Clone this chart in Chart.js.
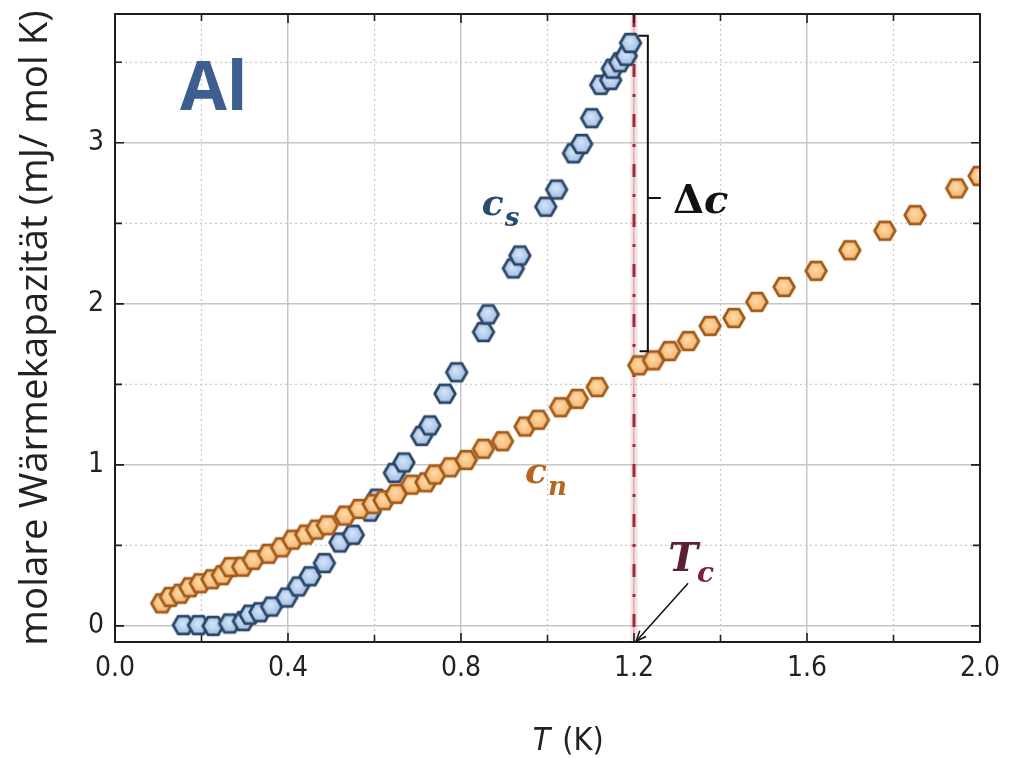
<!DOCTYPE html>
<html>
<head>
<meta charset="utf-8">
<script src="https://cdn.jsdelivr.net/npm/chart.js@4.4.1/dist/chart.umd.min.js"></script>
<style>
  html, body { margin: 0; padding: 0; background: #fff; }
</style>
</head>
<body>
<canvas id="myChart" width="1020" height="758"></canvas>
<script>
// supraleitender Zustand c_s
const csT = [0.158, 0.193, 0.227, 0.265, 0.297, 0.312, 0.335, 0.362, 0.397, 0.424,
             0.451, 0.484, 0.520, 0.551, 0.590, 0.605, 0.646, 0.668, 0.709, 0.728,
             0.763, 0.790, 0.852, 0.863, 0.921, 0.936, 0.996, 1.021, 1.060, 1.079,
             1.102, 1.123, 1.146, 1.150, 1.167, 1.182, 1.192];
const csC = [0.005, 0.005, 0.000, 0.015, 0.030, 0.070, 0.085, 0.120, 0.176, 0.245,
             0.308, 0.390, 0.518, 0.566, 0.710, 0.790, 0.950, 1.015, 1.180, 1.245,
             1.442, 1.575, 1.825, 1.935, 2.220, 2.300, 2.603, 2.710, 2.935, 2.993,
             3.153, 3.360, 3.390, 3.460, 3.500, 3.540, 3.620];
// normalleitender Zustand c_n
const cnT = [0.108, 0.128, 0.151, 0.173, 0.197, 0.224, 0.248, 0.267, 0.295, 0.320,
             0.355, 0.385, 0.411, 0.441, 0.466, 0.491, 0.532, 0.565, 0.597, 0.622,
             0.650, 0.686, 0.719, 0.740, 0.775, 0.812, 0.852, 0.896, 0.948, 0.979,
             1.030, 1.069, 1.115, 1.211, 1.245, 1.282, 1.326, 1.376, 1.431, 1.484,
             1.547, 1.621, 1.699, 1.780, 1.850, 1.946, 1.998];
const cnC = [0.140, 0.180, 0.200, 0.240, 0.265, 0.290, 0.315, 0.365, 0.368, 0.410,
             0.448, 0.488, 0.535, 0.567, 0.598, 0.625, 0.685, 0.726, 0.757, 0.780,
             0.820, 0.877, 0.892, 0.940, 0.985, 1.030, 1.100, 1.147, 1.238, 1.280,
             1.358, 1.410, 1.483, 1.618, 1.649, 1.707, 1.769, 1.863, 1.912, 2.012,
             2.105, 2.205, 2.333, 2.454, 2.551, 2.717, 2.794];

const xTicks = [0, 0.4, 0.8, 1.2, 1.6, 2.0];
const xMinor = [0.2, 0.6, 1.0, 1.4, 1.8];
const yTicks = [0, 1, 2, 3];
const yMinor = [0.5, 1.5, 2.5, 3.5];
const Tc = 1.2;

const tickFont = '"Liberation Sans Narrow", "DejaVu Sans Condensed", "Open Sans", sans-serif';

function hexagon(fillIn, fillOut, stroke) {
  const c = document.createElement('canvas');
  c.width = 26; c.height = 26;
  const g = c.getContext('2d');
  const r = 10.3;
  g.beginPath();
  for (let i = 0; i < 6; i++) {
    const a = Math.PI / 3 * i;
    const px = 13 + r * Math.cos(a), py = 13 + r * Math.sin(a);
    if (i) g.lineTo(px, py); else g.moveTo(px, py);
  }
  g.closePath();
  const grad = g.createRadialGradient(12, 11, 1, 13, 13, r);
  grad.addColorStop(0, fillIn);
  grad.addColorStop(1, fillOut);
  g.fillStyle = grad;
  g.fill();
  g.lineWidth = 2.8;
  g.strokeStyle = stroke;
  g.stroke();
  return c;
}

const blueHex = hexagon('#d2e3f6', '#9dbbe3', '#2b4666');
const orangeHex = hexagon('#fdd9a6', '#f2b269', '#a25b1c');

const decor = {
  id: 'decor',
  beforeDatasetsDraw(chart) {
    const ctx = chart.ctx, a = chart.chartArea;
    const X = v => chart.scales.x.getPixelForValue(v);
    const Y = v => chart.scales.y.getPixelForValue(v);
    ctx.save();
    // minor dotted grid
    ctx.strokeStyle = '#c9c9c9';
    ctx.lineWidth = 1.3;
    ctx.setLineDash([2, 3]);
    xMinor.forEach(v => {
      ctx.beginPath(); ctx.moveTo(X(v), a.top); ctx.lineTo(X(v), a.bottom); ctx.stroke();
    });
    yMinor.forEach(v => {
      ctx.beginPath(); ctx.moveTo(a.left, Y(v)); ctx.lineTo(a.right, Y(v)); ctx.stroke();
    });
    // T_c line
    ctx.setLineDash([]);
    ctx.strokeStyle = 'rgba(225,130,140,0.25)';
    ctx.lineWidth = 7;
    ctx.beginPath(); ctx.moveTo(X(Tc), a.top); ctx.lineTo(X(Tc), a.bottom); ctx.stroke();
    ctx.strokeStyle = '#9c2b3c';
    ctx.lineWidth = 3;
    ctx.setLineDash([13, 17, 3, 17]);
    ctx.beginPath(); ctx.moveTo(X(Tc), a.top); ctx.lineTo(X(Tc), a.bottom); ctx.stroke();
    ctx.restore();
  },
  afterDatasetsDraw(chart) {
    const ctx = chart.ctx, a = chart.chartArea;
    const X = v => chart.scales.x.getPixelForValue(v);
    const Y = v => chart.scales.y.getPixelForValue(v);
    ctx.save();
    // frame
    ctx.strokeStyle = '#1e1e1e';
    ctx.lineWidth = 2;
    ctx.strokeRect(a.left, a.top, a.right - a.left, a.bottom - a.top);
    // inward ticks
    ctx.lineWidth = 1.6;
    const tx = (v, len) => {
      ctx.beginPath();
      ctx.moveTo(X(v), a.bottom); ctx.lineTo(X(v), a.bottom - len);
      ctx.moveTo(X(v), a.top); ctx.lineTo(X(v), a.top + len);
      ctx.stroke();
    };
    const ty = (v, len) => {
      ctx.beginPath();
      ctx.moveTo(a.left, Y(v)); ctx.lineTo(a.left + len, Y(v));
      ctx.moveTo(a.right, Y(v)); ctx.lineTo(a.right - len, Y(v));
      ctx.stroke();
    };
    xTicks.forEach(v => tx(v, 9));
    xMinor.forEach(v => tx(v, 7));
    yTicks.forEach(v => ty(v, 9));
    yMinor.forEach(v => ty(v, 7));

    // bracket Delta c
    ctx.lineWidth = 2;
    ctx.strokeStyle = '#111';
    const bx = X(1.232);
    ctx.beginPath();
    ctx.moveTo(X(1.210), Y(3.665)); ctx.lineTo(bx, Y(3.665));
    ctx.lineTo(bx, Y(1.705)); ctx.lineTo(X(1.213), Y(1.705));
    ctx.moveTo(bx, Y(2.657)); ctx.lineTo(X(1.262), Y(2.657));
    ctx.stroke();

    // arrow to T_c
    const x1 = X(1.325), y1 = Y(0.265), x2 = X(1.205), y2 = Y(-0.095);
    ctx.lineWidth = 1.5;
    ctx.beginPath(); ctx.moveTo(x1, y1); ctx.lineTo(x2, y2); ctx.stroke();
    const ang = Math.atan2(y2 - y1, x2 - x1);
    ctx.beginPath();
    ctx.moveTo(x2 - 11 * Math.cos(ang - 0.4), y2 - 11 * Math.sin(ang - 0.4));
    ctx.lineTo(x2, y2);
    ctx.lineTo(x2 - 11 * Math.cos(ang + 0.4), y2 - 11 * Math.sin(ang + 0.4));
    ctx.stroke();

    // labels
    const txt = (s, x, y, font, color) => {
      ctx.font = font; ctx.fillStyle = color; ctx.fillText(s, x, y);
      return x + ctx.measureText(s).width;
    };
    ctx.textBaseline = 'alphabetic';
    ctx.textAlign = 'left';
    txt('Al', X(0.150), Y(3.205), '700 68px "Open Sans", sans-serif', '#3d5f90');

    let e = txt('c', X(0.848), Y(2.551), 'italic bold 36px "DejaVu Serif", serif', '#2b4a70');
    txt('s', e + 1, Y(2.483), 'italic bold 26px "DejaVu Serif", serif', '#2b4a70');

    e = txt('c', X(0.948), Y(0.890), 'italic bold 36px "DejaVu Serif", serif', '#b5671f');
    txt('n', e + 1, Y(0.815), 'italic bold 26px "DejaVu Serif", serif', '#b5671f');

    e = txt('T', X(1.279), Y(0.342), 'italic bold 40px "DejaVu Serif", serif', '#5c1f33');
    txt('c', e - 1, Y(0.274), 'italic bold 28px "DejaVu Serif", serif', '#7d2238');

    e = txt('\u0394', X(1.290), Y(2.564), 'bold 40px "DejaVu Serif", serif', '#111');
    txt('c', e, Y(2.564), 'italic bold 40px "DejaVu Serif", serif', '#111');

    // x axis title
    const base = a.bottom + 108;
    e = txt('T', X(0.966), base, 'italic 32px ' + tickFont, '#222');
    txt('(K)', e + 12, base, '32px ' + tickFont, '#222');
    ctx.restore();
  }
};

const ctx = document.getElementById('myChart').getContext('2d');

const data = {
  datasets: [
    {
      label: 'c_s',
      data: csT.map((t, i) => ({ x: t, y: csC[i] })),
      pointStyle: blueHex,
      pointRadius: 10,
      pointHoverRadius: 10,
      order: 1
    },
    {
      label: 'c_n',
      data: cnT.map((t, i) => ({ x: t, y: cnC[i] })),
      pointStyle: orangeHex,
      pointRadius: 10,
      pointHoverRadius: 10,
      order: 0
    }
  ]
};

const config = {
  type: 'scatter',
  data: data,
  options: {
    responsive: false,
    animation: false,
    layout: { padding: { top: 14, right: 40, left: 0, bottom: 0 } },
    plugins: { legend: { display: false }, tooltip: { enabled: false } },
    scales: {
      x: {
        type: 'linear',
        min: 0,
        max: 2.0,
        afterBuildTicks: s => { s.ticks = xTicks.map(v => ({ value: v })); },
        afterFit: s => { s.height = 116; s.paddingLeft = 0; s.paddingRight = 0; },
        ticks: {
          padding: 10,
          color: '#222',
          font: { family: tickFont, size: 28 },
          callback: v => v.toFixed(1)
        },
        grid: { color: '#c6c6c6', lineWidth: 1.5, drawTicks: false },
        border: { display: false }
      },
      y: {
        type: 'linear',
        min: -0.1,
        max: 3.8,
        afterBuildTicks: s => { s.ticks = yTicks.map(v => ({ value: v })); },
        afterFit: s => { s.width = 115; s.paddingTop = 0; s.paddingBottom = 0; },
        ticks: {
          padding: 11,
          color: '#222',
          font: { family: tickFont, size: 28 },
          callback: v => String(v)
        },
        grid: { color: '#c6c6c6', lineWidth: 1.5, drawTicks: false },
        border: { display: false },
        title: {
          display: true,
          text: 'molare Wärmekapazität (mJ/ mol K)',
          color: '#222',
          font: { family: '"Open Sans", sans-serif', size: 38.5 },
          padding: { top: 13, bottom: 0 }
        }
      }
    }
  },
  plugins: [decor]
};

const myChart = new Chart(ctx, config);
</script>
</body>
</html>
